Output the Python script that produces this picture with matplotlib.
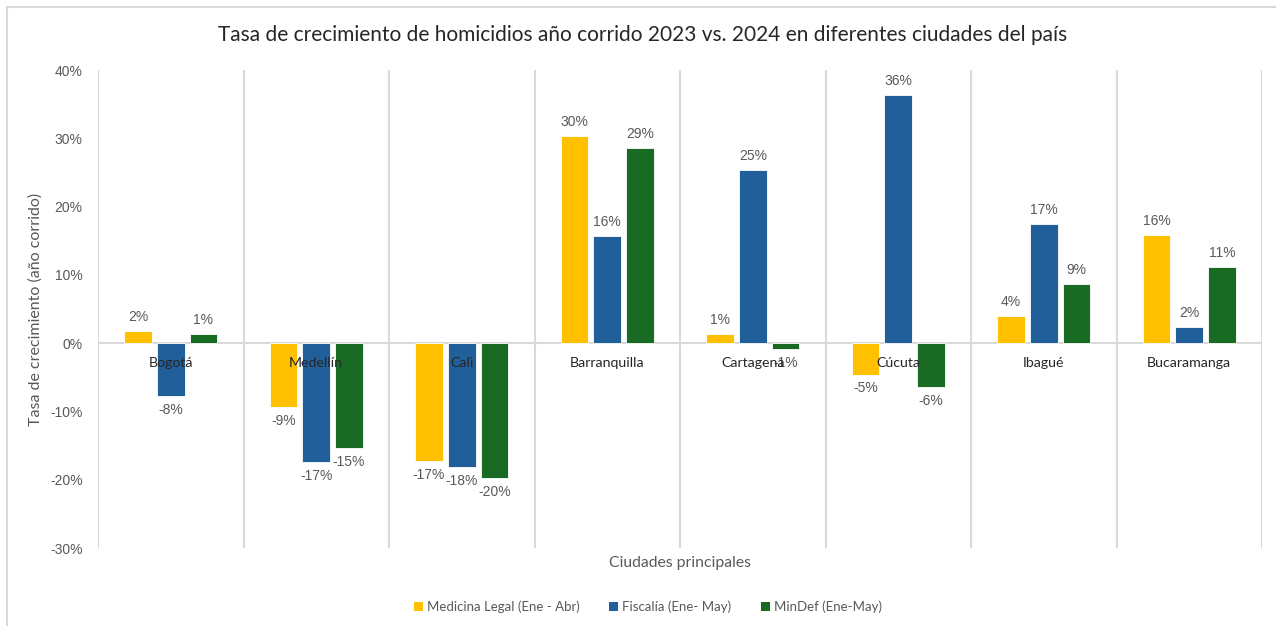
import matplotlib
matplotlib.use("Agg")
import matplotlib.pyplot as plt
from matplotlib.lines import Line2D
from matplotlib.patches import Patch
import numpy as np

cities = ["Bogotá", "Medellín", "Cali", "Barranquilla", "Cartagena", "Cúcuta", "Ibagué", "Bucaramanga"]
medicina_legal = [1.8, -9.3, -17.2, 30.4, 1.4, -4.6, 4.0, 15.9]
fiscalia = [-7.8, -17.4, -18.2, 15.7, 25.4, 36.4, 17.4, 2.3]
mindef = [1.4, -15.3, -19.8, 28.6, -0.8, -6.4, 8.6, 11.1]
series_names = ["Medicina Legal (Ene - Abr)", "Fiscalía (Ene- May)", "MinDef (Ene-May)"]
colors = ["#FFC000", "#215F9A", "#196B24"]
yticks = [-30, -20, -10, 0, 10, 20, 30, 40]
title = "Tasa de crecimiento de homicidios año corrido 2023 vs. 2024 en diferentes ciudades del país"

W, H = 1276, 626
fig = plt.figure(figsize=(W / 100, H / 100), dpi=100)
ax = fig.add_axes([98 / W, 1 - 548 / H, (1262 - 98) / W, (548 - 70) / H])

x = np.arange(len(cities))
width = 0.19
offsets = [-0.225, 0.0, 0.225]
label_font = "Liberation Sans"
grey = "#595959"

for vals, off, col in zip([medicina_legal, fiscalia, mindef], offsets, colors):
    ax.bar(x + off, vals, width, color=col, edgecolor="white", linewidth=0.6, zorder=3)
    for xi, v in zip(x, vals):
        lab = f"{round(v):.0f}%"
        if v >= 0:
            ax.annotate(lab, (xi + off, v), xytext=(0, 5), textcoords="offset points",
                        ha="center", va="bottom", fontsize=10, color=grey, family=label_font, zorder=4)
        else:
            ax.annotate(lab, (xi + off, v), xytext=(0, -5), textcoords="offset points",
                        ha="center", va="top", fontsize=10, color=grey, family=label_font, zorder=4)

ax.set_xlim(-0.5, len(cities) - 0.5)
ax.set_ylim(-30, 40)
for b in np.arange(-0.5, len(cities), 1.0):
    ax.axvline(b, color="#D9D9D9", lw=1.5, zorder=1)
ax.axhline(0, color="#D9D9D9", lw=1.5, zorder=2)

for s in ax.spines.values():
    s.set_visible(False)
ax.set_xticks([])
ax.set_yticks(yticks)
ax.set_yticklabels([f"{t}%" for t in yticks], fontsize=10, color=grey, family=label_font)
ax.tick_params(axis="y", length=0, pad=11)

for xi, c in zip(x, cities):
    ax.annotate(c, (xi, 0), xytext=(0, -14), textcoords="offset points", ha="center", va="center",
                fontsize=10.2, color="#262626", family="Lato", zorder=5)

ax.set_ylabel("Tasa de crecimiento (año corrido)", fontsize=11.5, color=grey, family="Lato", labelpad=5)
fig.text(680 / W, 1 - 563 / H, "Ciudades principales", ha="center", va="center", fontsize=11.3,
         color=grey, family="Lato")
fig.text(643 / W, 1 - 35 / H, title, ha="center", va="center", fontsize=15, color="#262626", family="Lato")

handles = [Patch(facecolor=c, edgecolor="none") for c in colors]
fig.legend(handles, series_names, loc="center", bbox_to_anchor=(648 / W, 1 - 607 / H), ncol=3,
           frameon=False, prop={"family": "Lato", "size": 9.5}, labelcolor=grey,
           handlelength=0.7, handleheight=0.7, handletextpad=0.3, columnspacing=2.2)

fig.add_artist(Line2D([7 / W, 1], [1 - 7 / H, 1 - 7 / H], color="#D9D9D9", lw=1.5, transform=fig.transFigure))
fig.add_artist(Line2D([7 / W, 7 / W], [0, 1 - 7 / H], color="#D9D9D9", lw=1.5, transform=fig.transFigure))

fig.savefig("out.png", dpi=100, facecolor="white")
